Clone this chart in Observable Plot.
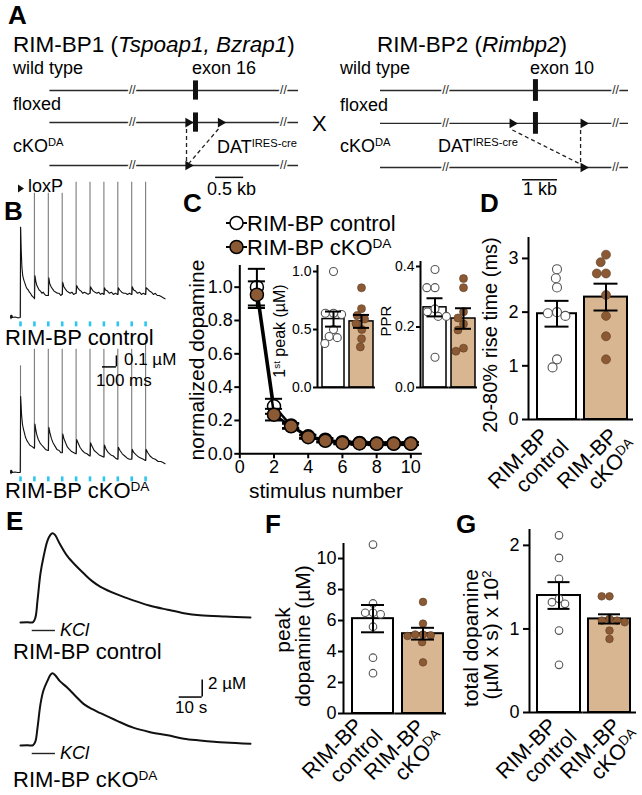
<!DOCTYPE html>
<html><head><meta charset="utf-8">
<script src="https://cdn.jsdelivr.net/npm/d3@7"></script>
<script src="https://cdn.jsdelivr.net/npm/@observablehq/plot@0.6"></script>
<style>
body{margin:0;background:#fff;}
#root{position:relative;width:642px;height:795px;overflow:hidden;background:#fff;font-family:"Liberation Sans",Arial,Helvetica,sans-serif;}
#root svg{position:absolute;}
</style></head><body><div id="root"></div>
<script>
// ================= DATA =================
// Panel A: gene schematics (kb, relative to the floxed exon)
const geneRows = ["wild type", "floxed", "cKO"];
const rimbp1Span = [-2.6, 1.84];
const rimbp1Breaks = [-1.13, 1.57];
const rimbp1Exon = 0;
const rimbp1FloxLoxP = [-0.13, 0.45];
const rimbp1CkoLoxP = [-0.13];
const rimbp1Cre = [[-0.16, -0.16], [0.41, -0.11]];
const rimbp1Scale = [0.36, 0.5];          // start, length (kb)
const rimbp2Span = [-4.43, 2.66];
const rimbp2Breaks = [-2.57, 2.29];
const rimbp2Exon = 0;
const rimbp2FloxLoxP = [-0.66, 1.37];
const rimbp2CkoLoxP = [1.37];
const rimbp2Cre = [[-0.66, 1.33], [1.29, 1.29]];
const rimbp2Scale = [-0.37, 1];

// Panel B: 10 Hz train traces (ms, µM)
const stimTimes = [0, 100, 200, 300, 400, 500, 600, 700, 800, 900];
const ctrlTrainTrace = [[-72,0],[-70,0.02],[-68,-0.01],[-66,0.02],[-64,0],[-62,0.02],[-58,0],[-40,0.005],[-20,-0.003],[-2,0],
[1,0.82],[5,0.62],[10,0.46],[16,0.38],[24,0.34],[32,0.31],[40,0.28],[48,0.26],[56,0.25],[64,0.23],[72,0.22],[80,0.2],[88,0.19],[96,0.18],
[101,0.17],[104,0.38],[110,0.33],[118,0.29],[126,0.27],[134,0.25],[144,0.24],[154,0.22],[164,0.23],[174,0.21],[184,0.2],[196,0.2],
[201,0.2],[204,0.36],[210,0.31],[220,0.28],[230,0.26],[242,0.24],[254,0.23],[266,0.22],[278,0.22],[290,0.2],[298,0.21],
[301,0.21],[304,0.32],[312,0.28],[322,0.26],[334,0.24],[346,0.23],[358,0.22],[370,0.23],[382,0.21],[398,0.22],
[401,0.22],[404,0.29],[412,0.27],[424,0.25],[436,0.24],[448,0.22],[460,0.23],[474,0.22],[486,0.21],[498,0.22],
[501,0.22],[504,0.28],[512,0.26],[524,0.24],[536,0.23],[550,0.22],[562,0.23],[576,0.21],[588,0.22],[598,0.21],
[601,0.21],[604,0.27],[612,0.25],[626,0.24],[640,0.22],[654,0.23],[668,0.21],[682,0.22],[698,0.21],
[701,0.21],[704,0.27],[714,0.25],[728,0.23],[742,0.22],[756,0.22],[770,0.21],[784,0.22],[798,0.21],
[801,0.21],[804,0.28],[814,0.25],[828,0.24],[842,0.22],[856,0.23],[870,0.21],[884,0.22],[898,0.21],
[901,0.21],[904,0.27],[914,0.26],[928,0.24],[942,0.23],[956,0.21],[970,0.22],[984,0.2],[998,0.2],[1012,0.19],[1026,0.18],[1040,0.17]];
const ctrlArtifactTops = [0.82, 1.13, 1.13, 1.13, 1.23, 1.23, 1.23, 1.23, 1.23, 1.23];
const ckoTrainTrace = [[-72,0],[-70,0.02],[-68,-0.01],[-66,0.02],[-64,0],[-62,0.015],[-58,0],[-40,0.005],[-20,0],[-2,0],
[1,0.69],[4,0.62],[8,0.52],[14,0.44],[20,0.4],[28,0.36],[36,0.32],[46,0.29],[56,0.27],[66,0.25],[78,0.24],[90,0.23],[98,0.22],
[101,0.22],[104,0.44],[110,0.39],[118,0.34],[128,0.3],[140,0.27],[152,0.25],[166,0.23],[180,0.21],[198,0.2],
[201,0.2],[204,0.41],[212,0.36],[222,0.31],[234,0.27],[248,0.24],[262,0.21],[278,0.2],[290,0.18],[298,0.18],
[301,0.18],[304,0.35],[312,0.31],[324,0.27],[338,0.23],[352,0.21],[368,0.19],[384,0.18],[398,0.17],
[401,0.17],[404,0.3],[414,0.27],[428,0.23],[444,0.2],[460,0.18],[478,0.17],[498,0.15],
[501,0.15],[504,0.27],[514,0.24],[530,0.2],[548,0.18],[566,0.16],[582,0.15],[598,0.14],
[601,0.14],[604,0.25],[616,0.21],[632,0.18],[650,0.16],[668,0.15],[684,0.13],[698,0.12],
[701,0.12],[704,0.23],[716,0.2],[732,0.17],[750,0.15],[768,0.13],[784,0.12],[798,0.12],
[801,0.12],[804,0.21],[816,0.18],[832,0.16],[850,0.14],[868,0.13],[884,0.12],[898,0.11],
[901,0.11],[904,0.21],[916,0.18],[932,0.15],[950,0.13],[970,0.12],[990,0.1],[1010,0.1],[1025,0.09],[1040,0.08]];
const ckoArtifactTops = [0.97, 1.12, 1.12, 1.12, 1.12, 1.12, 1.12, 1.12, 1.12, 1.2];
const trainScaleBar = {t: 690, v: 0.96, dt: 100, dv: 0.1};

// Panel C: normalized dopamine vs stimulus number
const stimNumber = [1, 2, 3, 4, 5, 6, 7, 8, 9, 10];
const ctrlNorm    = [1.0, 0.285, 0.17, 0.105, 0.085, 0.07, 0.065, 0.062, 0.062, 0.062];
const ctrlNormSem = [0.11, 0.045, 0.015, 0.01, 0.01, 0.008, 0.008, 0.008, 0.008, 0.008];
const ckoNorm     = [0.955, 0.235, 0.165, 0.1, 0.078, 0.065, 0.062, 0.06, 0.06, 0.06];
const ckoNormSem  = [0.08, 0.035, 0.015, 0.01, 0.01, 0.008, 0.008, 0.008, 0.008, 0.008];

const groups = ["RIM-BP control", "RIM-BP cKO"];
// C inset: 1st peak (µM)
const firstPeakCtrl = [1.0, 0.64, 0.64, 0.63, 0.5, 0.44, 0.43, 0.38];
const firstPeakCko  = [0.86, 0.68, 0.62, 0.59, 0.55, 0.5, 0.42, 0.35];
const firstPeakMean = [0.59, 0.57];
const firstPeakSem  = [0.065, 0.056];
// C inset: PPR
const pprCtrl = [0.39, 0.33, 0.33, 0.26, 0.25, 0.235, 0.235, 0.1];
const pprCko  = [0.36, 0.33, 0.25, 0.23, 0.21, 0.19, 0.13, 0.12];
const pprMean = [0.265, 0.228];
const pprSem  = [0.03, 0.034];
// D: 20-80% rise time (ms)
const riseCtrl = [2.8, 2.63, 2.46, 2.0, 1.98, 1.93, 1.12, 0.97];
const riseCko  = [3.07, 2.93, 2.72, 2.72, 2.32, 1.93, 1.55, 1.12];
const riseMean = [1.97, 2.28];
const riseSem  = [0.24, 0.25];
// E: KCl-evoked traces (s, µM)
const ctrlKclTrace = [[0,0],[3,0.02],[5.5,0.05],[6.5,0.6],[7.4,2.6],[8.7,5.8],[10,7.7],[11.7,9.6],[13,10.3],[13.9,10.5],[15,10.3],[17,9.3],[20.4,7.8],[24,6.7],[27.4,5.8],[31,4.9],[34.8,4.2],[42,3.3],[49,2.6],[56,2.0],[64,1.5],[71,1.1],[78,0.85],[89,0.7],[100,0.6]];
const ckoKclTrace = [[0,0],[3,0.02],[5.5,0.05],[6.5,0.5],[7.4,2.1],[8.7,4.9],[10,6.5],[11.7,7.6],[13,8.3],[13.9,8.5],[15,8.3],[17,7.6],[20.4,6.8],[24,5.8],[27.4,4.9],[31,4.3],[34.8,3.8],[42,2.9],[49,2.1],[56,1.6],[64,1.2],[71,0.8],[78,0.6],[89,0.35],[100,0.2]];
const kclApplication = [5.1, 15.2];
const kclScaleBar = {t: 79, v: 5.7, dt: 10, dv: 2};
// F: peak dopamine (µM)
const peakCtrl = [10.9, 7.1, 6.5, 6.5, 6.4, 5.6, 3.6, 2.6];
const peakCko  = [7.2, 5.8, 5.1, 5.1, 5.05, 5.0, 4.6, 3.3];
const peakMean = [6.12, 5.15];
const peakSem  = [0.88, 0.38];
// G: total dopamine (µM x s) x 10^2
const totalCtrl = [2.12, 1.85, 1.6, 1.36, 1.32, 1.3, 0.98, 0.57];
const totalCko  = [1.39, 1.39, 1.12, 1.1, 1.1, 1.08, 0.98, 0.88];
const totalMean = [1.4, 1.12];
const totalSem  = [0.16, 0.055];

// ================= STYLE / LAYOUT =================
const FONT = '"Liberation Sans", Arial, Helvetica, sans-serif';
const BROWN = "#8b5a34", TAN = "#d9b692", GREY = "#555", CYAN = "#2cc6ef";
const baseStyle = {background: "none", overflow: "visible", fontFamily: FONT, color: "black"};
const rowLevel = [0, 1, 2.34];
const root = document.getElementById("root");
function place(svg, left, top) { svg.style.left = left + "px"; svg.style.top = top + "px"; root.appendChild(svg); return svg; }

// ---------- Panel A ----------
function schematic(p) {
  const lv = rowLevel;
  const rows = geneRows.map((r, i) => ({row: r, lvl: lv[i]}));
  const brk = rows.flatMap(r => p.breaks.map(b => ({x: b, lvl: r.lvl})));
  const exon = rows.slice(0, 2).map(r => ({x: p.exon, lvl: r.lvl}));
  const lox = [...p.flox.map(x => ({x, lvl: lv[1]})), ...p.cko.map(x => ({x, lvl: lv[2]}))];
  const cre = p.cre.map(([a, b]) => ({x1: a, x2: b, y1: lv[1] + 0.2, y2: lv[2] - 0.08}));
  const sb = [{x1: p.scale[0], x2: p.scale[0] + p.scale[1], y: lv[2] + 0.37}];
  return place(Plot.plot({
    width: p.W, height: p.H, style: baseStyle,
    x: {domain: p.span, range: p.xr, axis: null},
    y: {domain: [0, lv[2]], range: p.yr, axis: null},
    marks: [
      Plot.ruleY(rows, {y: "lvl", x1: p.span[0], x2: p.span[1], stroke: "#2a2a2a", strokeWidth: 1.4}),
      Plot.text(brk, {x: "x", y: "lvl", text: () => "//", fontSize: 12, fill: "#222", stroke: "white", strokeWidth: 3.5}),
      Plot.ruleX(exon, {x: "x", y1: d => d.lvl - p.exH, y2: d => d.lvl + p.exH, stroke: "#111", strokeWidth: 5}),
      Plot.link(cre, {x1: "x1", y1: "y1", x2: "x2", y2: "y2", stroke: "#222", strokeWidth: 1.3, strokeDasharray: "4,3"}),
      Plot.dot(lox, {x: "x", y: "lvl", symbol: "triangle", rotate: 90, r: 3.6, fill: "#111", stroke: "none"}),
      Plot.ruleY(sb, {x1: "x1", x2: "x2", y: "y", stroke: "#111", strokeWidth: 1.5})
    ]
  }), p.L, p.T);
}
schematic({L: 0, T: 70, W: 320, H: 130, span: rimbp1Span, breaks: rimbp1Breaks, exon: rimbp1Exon, flox: rimbp1FloxLoxP, cko: rimbp1CkoLoxP, cre: rimbp1Cre, scale: rimbp1Scale, xr: [49.4, 298], yr: [20, 95], exH: 0.3});
schematic({L: 320, T: 70, W: 322, H: 130, span: rimbp2Span, breaks: rimbp2Breaks, exon: rimbp2Exon, flox: rimbp2FloxLoxP, cko: rimbp2CkoLoxP, cre: rimbp2Cre, scale: rimbp2Scale, xr: [60, 308], yr: [20, 97], exH: 0.33});

// ---------- Traces (B, E) ----------
function valueAt(tr, t) {
  let prev = tr[0];
  for (const p of tr) { if (p[0] > t) { const f = (t - prev[0]) / (p[0] - prev[0] || 1); return prev[1] + f * (p[1] - prev[1]); } prev = p; }
  return prev[1];
}
function trainPlot(trace, tops, T, withScale) {
  const stims = stimTimes.map((t, i) => ({t, base: i === 0 ? 0 : valueAt(trace, t - 1), top: tops[i]}));
  const marks = [
    Plot.ruleX(stims, {x: "t", y1: "base", y2: "top", stroke: "#7a7a7a", strokeWidth: 1.1}),
    Plot.ruleX(stimTimes, {x: d => d, y1: -0.04, y2: -0.085, stroke: CYAN, strokeWidth: 2.6}),
    Plot.line(trace, {x: d => d[0], y: d => d[1], stroke: "#111", strokeWidth: 1.1})
  ];
  if (withScale) {
    const s = [trainScaleBar];
    marks.push(
      Plot.ruleX(s, {x: "t", y1: "v", y2: d => d.v + d.dv, strokeWidth: 1.5}),
      Plot.ruleY(s, {y: "v", x1: d => d.t - d.dt, x2: "t", strokeWidth: 1.5}));
  }
  return place(Plot.plot({width: 170, height: 160, style: baseStyle,
    x: {domain: [0, 1000], range: [20, 159], axis: null},
    y: {domain: [0, 1], range: [142, 32], axis: null}, marks}), 0, T);
}
trainPlot(ctrlTrainTrace, ctrlArtifactTops, 175, false);
trainPlot(ckoTrainTrace, ckoArtifactTops, 330, true);

function kclPlot(trace, T, withScale) {
  const marks = [
    Plot.ruleY([kclApplication], {x1: d => d[0], x2: d => d[1], y: -0.94, stroke: "#222", strokeWidth: 1.4}),
    Plot.line(trace, {x: d => d[0], y: d => d[1], stroke: "#111", strokeWidth: 2, curve: "catmull-rom"})
  ];
  if (withScale) {
    const s = [kclScaleBar];
    marks.push(
      Plot.ruleX(s, {x: "t", y1: "v", y2: d => d.v + d.dv, strokeWidth: 1.5}),
      Plot.ruleY(s, {y: "v", x1: d => d.t - d.dt, x2: "t", strokeWidth: 1.5}));
  }
  return place(Plot.plot({width: 260, height: 120, style: baseStyle,
    x: {domain: [0, 100], range: [20, 250], axis: null},
    y: {domain: [0, 10], range: [102, 17], axis: null}, marks}), 0, T);
}
kclPlot(ctrlKclTrace, 520, false);
kclPlot(ckoKclTrace, 643, true);

// ---------- Panel C main ----------
(function () {
  const L = 150, T = 255, W = 290, H = 250, axisX = 239.3, zeroY = 453.3, topY = 265, rightX = 421.8;
  const yTop = 1.13, xMax = 10.67;
  const rows = (m, s) => stimNumber.map((n, i) => ({s: n, m: m[i], lo: m[i] - s[i], hi: m[i] + s[i]}));
  const c = rows(ctrlNorm, ctrlNormSem), k = rows(ckoNorm, ckoNormSem);
  const series = (d, fill) => [
    Plot.line(d, {x: "s", y: "m", stroke: "black", strokeWidth: 2.5}),
    Plot.ruleX(d, {x: "s", y1: "lo", y2: "hi", strokeWidth: 2}),
    Plot.ruleY(d, {y: "lo", x1: d => d.s - 0.5, x2: d => d.s + 0.5, strokeWidth: 2}),
    Plot.ruleY(d, {y: "hi", x1: d => d.s - 0.5, x2: d => d.s + 0.5, strokeWidth: 2}),
    Plot.dot(d, {x: "s", y: "m", r: 6.5, fill, stroke: "black", strokeWidth: 1.5})
  ];
  place(Plot.plot({width: W, height: H, marginLeft: axisX - L, marginRight: L + W - rightX, marginTop: topY - T, marginBottom: T + H - zeroY,
    style: baseStyle, x: {domain: [0, xMax]}, y: {domain: [0, yTop]},
    marks: [
      Plot.ruleX([0], {y1: 0, y2: yTop, strokeWidth: 2}),
      Plot.ruleY([0], {x1: 0, x2: xMax, strokeWidth: 2}),
      Plot.axisY({ticks: [0, 0.2, 0.4, 0.6, 0.8, 1.0], tickFormat: d3.format(".1f"), tickSize: 5, tickPadding: 2, strokeWidth: 2, fontSize: 18, label: null}),
      Plot.axisX({ticks: [0, 2, 4, 6, 8, 10], tickFormat: d => String(d), tickSize: 5, tickPadding: 1, strokeWidth: 2, fontSize: 18, label: null}),
      ...series(c, "white"), ...series(k, BROWN)
    ]}), L, T);
})();

// ---------- Bar panels ----------
function barPanel(cfg) {
  const {L, T, W, H, axisX, zeroY, topY, rightX, yTop, ticks, fmt, barsPx, capHalf, r, pts, mean, sem, font} = cfg;
  const fw = (rightX - axisX) / 2;
  const marks = [];
  groups.forEach((g, i) => {
    const f0 = axisX + i * fw;
    const f1 = (barsPx[i][0] - f0) / fw, f2 = (barsPx[i][1] - f0) / fw, c = (f1 + f2) / 2, ch = capHalf / fw;
    const sd = [{g, m: mean[i], lo: mean[i] - sem[i], hi: mean[i] + sem[i]}];
    const pd = pts[i].map(v => ({g, v}));
    marks.push(
      Plot.rectY(sd, {fx: "g", x1: f1, x2: f2, y1: 0, y2: "m", fill: i ? TAN : "white", stroke: "black", strokeWidth: cfg.bw || 2}),
      Plot.dot(pd, Plot.dodgeX({anchor: "middle", padding: 0.2, fx: "g", y: "v", r, dx: (c - 0.5) * fw,
        fill: i ? BROWN : "white", stroke: i ? "#5a3a20" : GREY, strokeWidth: i ? 0.6 : 1.1})),
      Plot.ruleX(sd, {fx: "g", x: c, y1: "lo", y2: "hi", strokeWidth: 2}),
      Plot.ruleY(sd, {fx: "g", y: "lo", x1: c - ch, x2: c + ch, strokeWidth: 2}),
      Plot.ruleY(sd, {fx: "g", y: "hi", x1: c - ch, x2: c + ch, strokeWidth: 2})
    );
  });
  marks.push(
    Plot.ruleX([{g: groups[0]}], {fx: "g", x: 0, y1: 0, y2: yTop, strokeWidth: 2}),
    Plot.ruleY(groups.map(g => ({g})), {fx: "g", y: 0, x1: 0, x2: 1, strokeWidth: 2}),
    Plot.axisY({ticks, tickFormat: fmt, tickSize: cfg.ts || 6, tickPadding: cfg.tp || 3, strokeWidth: 2, fontSize: font, label: null})
  );
  return place(Plot.plot({width: W, height: H, marginLeft: axisX - L, marginRight: L + W - rightX, marginTop: topY - T, marginBottom: T + H - zeroY,
    style: baseStyle, fx: {domain: groups, padding: 0, round: false, axis: null, label: null},
    x: {domain: [0, 1], axis: null}, y: {domain: [0, yTop]}, marks}), L, T);
}
// C insets
barPanel({L: 270, T: 255, W: 110, H: 150, axisX: 317, zeroY: 387, topY: 265, rightX: 375, yTop: 1.052,
  ticks: [0, 0.5, 1.0], fmt: d3.format(".1f"), barsPx: [[322, 344], [349, 373]], capHalf: 8, r: 4,
  pts: [firstPeakCtrl, firstPeakCko], mean: firstPeakMean, sem: firstPeakSem, font: 14, bw: 1.5, ts: 4, tp: 2});
barPanel({L: 375, T: 255, W: 110, H: 150, axisX: 420, zeroY: 387, topY: 261, rightX: 477, yTop: 0.4165,
  ticks: [0, 0.2, 0.4], fmt: d3.format(".1f"), barsPx: [[423, 446], [451, 475]], capHalf: 8, r: 4,
  pts: [pprCtrl, pprCko], mean: pprMean, sem: pprSem, font: 14, bw: 1.5, ts: 4, tp: 2});
// D
barPanel({L: 470, T: 225, W: 172, H: 210, axisX: 528, zeroY: 419, topY: 237, rightX: 633, yTop: 3.39,
  ticks: [0, 1, 2, 3], fmt: d => String(d), barsPx: [[537, 576], [584, 627]], capHalf: 12, r: 4.5,
  pts: [riseCtrl, riseCko], mean: riseMean, sem: riseSem, font: 18, ts: 6, tp: 4});
// F
barPanel({L: 290, T: 535, W: 160, H: 195, axisX: 343, zeroY: 713, topY: 543, rightX: 446, yTop: 10.97,
  ticks: [0, 2, 4, 6, 8, 10], fmt: d => String(d), barsPx: [[352, 393], [402, 443]], capHalf: 11.5, r: 3.8,
  pts: [peakCtrl, peakCko], mean: peakMean, sem: peakSem, font: 18, ts: 5, tp: 2});
// G
barPanel({L: 480, T: 520, W: 162, H: 210, axisX: 529, zeroY: 712, topY: 529, rightX: 636, yTop: 2.19,
  ticks: [0, 1, 2], fmt: d => String(d), barsPx: [[537, 580], [588, 630]], capHalf: 11, r: 3.8,
  pts: [totalCtrl, totalCko], mean: totalMean, sem: totalSem, font: 18, ts: 6, tp: 4});

// ================= TEXT OVERLAY =================
const ov = d3.select(root).append("svg").attr("width", 642).attr("height", 795)
  .style("left", "0px").style("top", "0px").style("font-family", FONT).attr("fill", "black");
function T(html, x, y, size, o = {}) {
  const t = ov.append("text").attr("x", x).attr("y", y).attr("font-size", size).html(html);
  if (o.bold) t.attr("font-weight", "bold");
  if (o.italic) t.attr("font-style", "italic");
  if (o.anchor) t.attr("text-anchor", o.anchor);
  if (o.rot != null) t.attr("transform", `rotate(${o.rot},${x},${y})`);
  return t;
}
const SUP = s => `<tspan baseline-shift="super" font-size="62%">${s}</tspan>`;
const IT = s => `<tspan font-style="italic">${s}</tspan>`;
// A
T("A", 8, 24, 26, {bold: true});
T(`RIM-BP1 (${IT("Tspoap1, Bzrap1")})`, 13, 52, 22.5);
T("wild type", 13, 74, 18); T("exon 16", 192, 74, 18);
T("floxed", 13, 110, 18);
T("X", 312, 131, 22);
T(`cKO${SUP("DA")}`, 13, 152, 18);
T(`DAT${SUP("IRES-cre")}`, 217, 153, 18);
T("0.5 kb", 207, 195, 18);
ov.append("polygon").attr("points", "18,184.5 18,192.5 24,188.5").attr("fill", "#111");
T("loxP", 28, 192, 18);
T(`RIM-BP2 (${IT("Rimbp2")})`, 377, 52, 22.5);
T("wild type", 340, 74, 18); T("exon 10", 530, 74, 18);
T("floxed", 340, 111, 18);
T(`cKO${SUP("DA")}`, 340, 152, 18);
T(`DAT${SUP("IRES-cre")}`, 438, 152, 18);
T("1 kb", 523, 195, 18);
// B
T("B", 4, 220, 26, {bold: true});
T("RIM-BP control", 5, 345, 22);
T("0.1 µM", 124, 365, 17);
T("100 ms", 96, 386, 17);
T(`RIM-BP cKO${SUP("DA")}`, 5, 498, 22);
// C
T("C", 183, 212, 26, {bold: true});
ov.append("line").attr("x1", 226).attr("x2", 247).attr("y1", 223).attr("y2", 223).attr("stroke", "black").attr("stroke-width", 2);
ov.append("circle").attr("cx", 236.5).attr("cy", 223).attr("r", 6.5).attr("fill", "white").attr("stroke", "black").attr("stroke-width", 1.5);
T("RIM-BP control", 247, 231, 22);
ov.append("line").attr("x1", 226).attr("x2", 247).attr("y1", 247).attr("y2", 247).attr("stroke", "black").attr("stroke-width", 2);
ov.append("circle").attr("cx", 236.5).attr("cy", 247).attr("r", 6.5).attr("fill", BROWN).attr("stroke", "black").attr("stroke-width", 1.5);
T(`RIM-BP cKO${SUP("DA")}`, 247, 255, 22);
T("normalized dopamine", 204, 360, 21, {anchor: "middle", rot: -90});
T("stimulus number", 326, 498, 21, {anchor: "middle"});
T(`1${SUP("st")} peak (µM)`, 285, 331, 16, {anchor: "middle", rot: -90});
T("PPR", 391, 321, 15, {anchor: "middle", rot: -90});
// D
T("D", 480, 212, 26, {bold: true});
T("20-80% rise time (ms)", 497, 335, 20, {anchor: "middle", rot: -90});
// E
T("E", 6, 530, 26, {bold: true});
T("KCl", 60, 636, 18, {italic: true});
T("RIM-BP control", 13, 659, 22);
T("2 µM", 208, 689, 17);
T("10 s", 175, 713, 17);
T("KCl", 60, 759, 18, {italic: true});
T(`RIM-BP cKO${SUP("DA")}`, 13, 787, 22);
// F
T("F", 265, 533, 26, {bold: true});
T("peak", 290, 630, 21, {anchor: "middle", rot: -90});
T("dopamine (µM)", 310, 636, 21, {anchor: "middle", rot: -90});
// G
T("G", 456, 533, 26, {bold: true});
T("total dopamine", 478, 638, 21, {anchor: "middle", rot: -90});
T(`(µM x s) x 10${SUP("2")}`, 498, 635, 21, {anchor: "middle", rot: -90});
// rotated category labels
function catLabel(x, y, second) {
  const g = ov.append("g").attr("transform", `translate(${x},${y}) rotate(-45)`).attr("font-size", 21.5).attr("text-anchor", "end");
  g.append("text").attr("x", 0).attr("y", 0).text("RIM-BP");
  g.append("text").attr("x", 6).attr("y", 22).html(second);
}
const ctrlLab = "control", ckoLab = `cKO${SUP("DA")}`;
catLabel(550, 437, ctrlLab); catLabel(619, 437, ckoLab);
catLabel(364, 727, ctrlLab); catLabel(426, 728, ckoLab);
catLabel(558, 727, ctrlLab); catLabel(622, 727, ckoLab);
</script></body></html>
